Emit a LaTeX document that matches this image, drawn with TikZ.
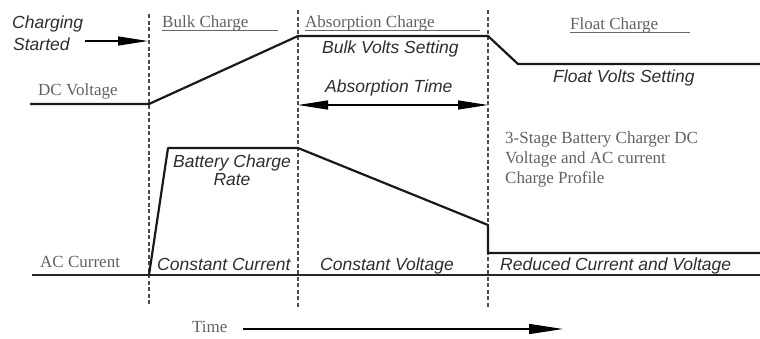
\documentclass[tikz,border=0pt]{standalone}
\usepackage{fontspec}
\setmainfont{Liberation Serif}
\setsansfont{Liberation Sans}
\usetikzlibrary{arrows.meta}

\tikzset{
  serlbl/.style={font=\fontsize{17}{20}\selectfont, text=black!62, inner sep=0pt, anchor=base west},
  itlbl/.style={font=\sffamily\itshape\fontsize{17.5}{20}\selectfont, text=black!82, inner sep=0pt, anchor=base west},
  stageline/.style={dash pattern={on 4pt off 2.5pt}, line width=1.3pt, black!70},
  profile/.style={line width=2.2pt, black!90, line join=round},
  underl/.style={line width=1pt, black!60},
}

\begin{document}
\begin{tikzpicture}[x=1pt,y=1pt,yscale=-1,xscale=1]
\useasboundingbox (0,0) rectangle (760,338);

%Stage borders
\coordinate (s1top) at (149,14);  \coordinate (s1bot) at (149,306);
\coordinate (s2top) at (298,10);  \coordinate (s2bot) at (298,307);
\coordinate (s3top) at (488,10);  \coordinate (s3bot) at (488,307);
\draw [stageline] (s1top) -- (s1bot) ;
\draw [stageline] (s2top) -- (s2bot) ;
\draw [stageline] (s3top) -- (s3bot) ;

%DC voltage profile
\coordinate (dc0) at (30,104);
\coordinate (dc1) at (149,104);
\coordinate (dc2) at (298,36);
\coordinate (dc3) at (488,36);
\coordinate (dc4) at (518,64);
\coordinate (dc5) at (760,64);
\draw [profile] (dc0) -- (dc1) -- (dc2) -- (dc3) -- (dc4) -- (dc5) ;

%AC current profile
\coordinate (ac0) at (32,275);
\coordinate (ac1) at (149,275);
\coordinate (ac2) at (168,148);
\coordinate (ac3) at (298,148);
\coordinate (ac4) at (488,225);
\coordinate (ac5) at (488,253);
\coordinate (ac6) at (760,253);
\coordinate (acend) at (760,275);
\draw [line width=2pt, black!85] (ac0) -- (ac1) ;
\draw [line width=1.5pt, black!85] (ac1) -- (acend) ;
\draw [profile] (ac1) -- (ac2) -- (ac3) -- (ac4) -- (ac5) -- (ac6) ;

% Text Node
\draw (12,28) node (chg) [itlbl] {Charging};
% Text Node
\draw (13,50) node (strt) [itlbl] {Started};
\coordinate (chgtip) at (148,41);
\draw [line width=1.3pt, -{Triangle[length=30pt,width=9pt]}] (85,41) -- (chgtip) ;

% Text Node
\draw (162,27) node (bulk) [serlbl] {Bulk Charge};
\draw [underl] (bulk.base west) ++(0,3) -- (278,30) ;
% Text Node
\draw (305,27) node (absc) [serlbl] {Absorption Charge};
\draw [underl] (absc.base west) ++(0,3) -- (480,30) ;
% Text Node
\draw (570,29) node (flt) [serlbl] {Float Charge};
\draw [underl] (flt.base west) ++(0,3) -- (690,32) ;

% Text Node
\draw (322,53) node (bvs) [itlbl] {Bulk Volts Setting};
% Text Node
\draw (553,82) node (fvs) [itlbl] {Float Volts Setting};
% Text Node
\draw (325,92) node (abst) [itlbl] {Absorption Time};
\coordinate (absl) at (298,105);
\coordinate (absr) at (488,105);
\draw [line width=1.3pt, {Triangle[length=30pt,width=9pt]}-{Triangle[length=30pt,width=9pt]}] (absl) -- (absr) ;

% Text Node
\draw (38,95) node (dcv) [serlbl] {DC Voltage};
% Text Node
\draw (40,267) node (acc) [serlbl] {AC Current};

% Text Node
\draw (505,131) node (prof) [serlbl, align=left, anchor=north west] {3-Stage Battery Charger DC\\Voltage and AC current\\Charge Profile};

% Text Node
\draw (232,167) node (bcr) [itlbl, anchor=base] {Battery Charge};
% Text Node
\draw (232,185) node (rate) [itlbl, anchor=base] {Rate};

% Text Node
\draw (157,270) node (ccur) [itlbl] {Constant Current};
% Text Node
\draw (320,270) node (cvol) [itlbl] {Constant Voltage};
% Text Node
\draw (500,270) node (rcv) [itlbl] {Reduced Current and Voltage};

% Text Node
\draw (192,332) node (time) [serlbl] {Time};
\coordinate (timeend) at (563,329);
\draw [line width=1.3pt, -{Triangle[length=34pt,width=10pt]}] (243,329) -- (timeend) ;

\end{tikzpicture}
\end{document}
